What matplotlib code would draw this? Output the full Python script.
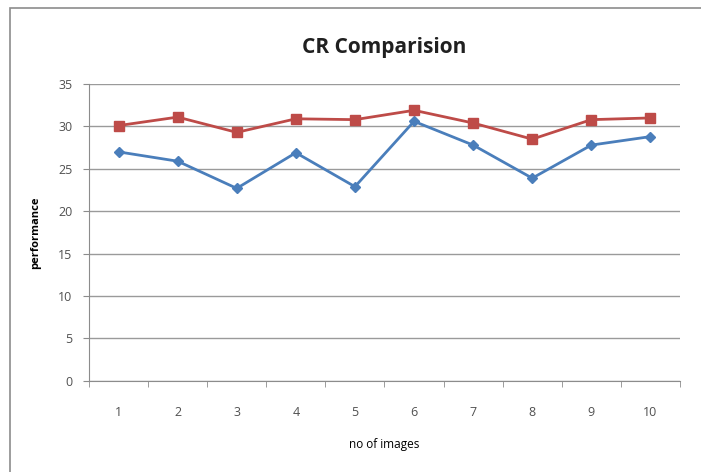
import matplotlib.pyplot as plt
from matplotlib.patches import Rectangle
import numpy as np

images = [1, 2, 3, 4, 5, 6, 7, 8, 9, 10]
red_series = [30.1, 31.1, 29.3, 30.9, 30.8, 31.9, 30.4, 28.5, 30.8, 31.0]
blue_series = [27.0, 25.9, 22.7, 26.9, 22.9, 30.6, 27.8, 23.9, 27.8, 28.8]
y_ticks = [0, 5, 10, 15, 20, 25, 30, 35]

fig = plt.figure(figsize=(7.01, 4.72), dpi=100)
ax = fig.add_axes([0.127, 0.193, 0.843, 0.629])

# outer chart border (cut by image edges on right/bottom)
fig.patches.append(Rectangle((10 / 701, -0.1), 1.2, 1.083, transform=fig.transFigure,
                             fill=False, edgecolor='#8c8c8c', linewidth=1.2))

ax.plot(images, blue_series, color='#4A7EBB', linewidth=2, marker='D', markersize=5.5,
        markerfacecolor='#4A7EBB', markeredgecolor='#4A7EBB', zorder=3)
ax.plot(images, red_series, color='#BE4B48', linewidth=2, marker='s', markersize=7,
        markerfacecolor='#BE4B48', markeredgecolor='#BE4B48', zorder=4)

ax.set_xlim(0.5, 10.5)
ax.set_ylim(0, 35)
ax.set_yticks(y_ticks)
ax.set_xticks(images)
ax.set_xticks(np.arange(0.5, 11, 1), minor=True)
ax.tick_params(axis='x', which='major', length=0, pad=18, labelsize=9, labelcolor='#505050')
ax.tick_params(axis='x', which='minor', length=4, color='#8c8c8c', direction='out')
ax.tick_params(axis='y', length=4, color='#8c8c8c', labelsize=9, labelcolor='#505050', pad=8)
for lab in ax.get_xticklabels() + ax.get_yticklabels():
    lab.set_family(['Liberation Sans Narrow', 'Open Sans', 'DejaVu Sans'])

ax.grid(axis='y', color='#9a9a9a', linewidth=1)
ax.set_axisbelow(True)
for side in ['top', 'right']:
    ax.spines[side].set_visible(False)
ax.spines['left'].set_color('#8c8c8c')
ax.spines['bottom'].set_color('#8c8c8c')

ax.set_title('CR Comparision', fontsize=15, fontweight='bold', family='Open Sans',
             color='#202020', pad=22)
ax.set_ylabel('performance', fontsize=8, fontweight='bold', family='Open Sans', labelpad=12)
ax.set_xlabel('no of images', fontsize=8.5, family='Open Sans', labelpad=14)

plt.savefig('out.png', dpi=100)
